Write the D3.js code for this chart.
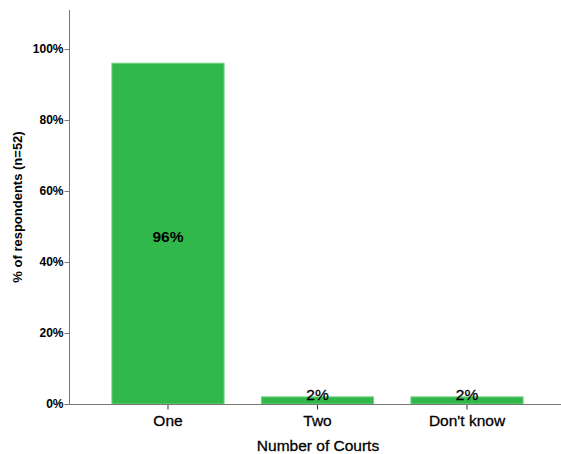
<!DOCTYPE html>
<html><head><meta charset="utf-8">
<script src="https://cdn.jsdelivr.net/npm/d3@7"></script>
<style>body{margin:0;background:#fff}svg{display:block}</style>
</head><body>
<script>
const categories = ["One", "Two", "Don't know"];
const values = [96, 2, 2];
const valueLabels = ["96%", "2%", "2%"];
const yTicks = [0, 20, 40, 60, 80, 100];

const W = 561, H = 454;
const svg = d3.select("body").append("svg").attr("width", W).attr("height", H);
const font = "Arial, 'Liberation Sans', sans-serif";

const y = d3.scaleLinear().domain([0, 111]).range([404, 10]);
const x = d3.scaleBand().domain(categories).range([72, 563]).paddingInner(0.25).paddingOuter(0.267);

// bars
svg.selectAll("rect.bar").data(values).enter().append("rect")
  .attr("x", (d, i) => x(categories[i]))
  .attr("y", d => y(d))
  .attr("width", x.bandwidth())
  .attr("height", d => y(0) - y(d))
  .attr("fill", "#31b84a")
  .attr("stroke", "#6fd07f").attr("stroke-width", 1);

// y axis
const yAxis = d3.axisLeft(y).tickValues(yTicks).tickFormat(d => d + "%").tickSize(5).tickSizeOuter(0);
const gy = svg.append("g").attr("transform", "translate(69.5,0)").call(yAxis);
gy.select(".domain").remove();
gy.append("line").attr("x1", 0).attr("x2", 0).attr("y1", 10).attr("y2", 404).attr("stroke", "#777");
gy.selectAll(".tick line").attr("stroke", "#777");
gy.selectAll(".tick text").attr("font-family", font).attr("font-size", 12).attr("font-weight", "bold").attr("fill", "#000").attr("x", -6);

// x axis
const xAxis = d3.axisBottom(x).tickSize(5).tickSizeOuter(0);
const gx = svg.append("g").attr("transform", "translate(0,404.5)").call(xAxis);
gx.select(".domain").remove();
gx.append("line").attr("x1", 69).attr("x2", 561).attr("y1", 0).attr("y2", 0).attr("stroke", "#777");
gx.selectAll(".tick line").attr("stroke", "#333");
gx.selectAll(".tick text").attr("font-family", font).attr("font-size", 15.5).attr("fill", "#000")
  .attr("stroke", "#000").attr("stroke-width", 0.3).attr("dy", "0.71em").attr("y", 10);

// value labels
svg.selectAll("text.val").data(values).enter().append("text")
  .attr("x", (d, i) => x(categories[i]) + x.bandwidth() / 2)
  .attr("y", d => d > 50 ? y(d / 2) + 8 : y(0) - 4)
  .attr("text-anchor", "middle")
  .attr("font-family", font).attr("font-size", 15.5)
  .attr("font-weight", (d) => d > 50 ? "bold" : "normal")
  .attr("stroke", d => d > 50 ? "none" : "#000").attr("stroke-width", 0.3)
  .attr("fill", "#000")
  .text((d, i) => valueLabels[i]);

// axis titles
svg.append("text").attr("x", 318).attr("y", 451).attr("text-anchor", "middle")
  .attr("font-family", font).attr("font-size", 15.5).attr("fill", "#000")
  .attr("stroke", "#000").attr("stroke-width", 0.3).text("Number of Courts");
svg.append("text").attr("transform", "translate(22,207) rotate(-90)").attr("text-anchor", "middle")
  .attr("font-family", font).attr("font-size", 13).attr("font-weight", "bold").attr("fill", "#000").text("% of respondents (n=52)");
</script>
</body></html>
